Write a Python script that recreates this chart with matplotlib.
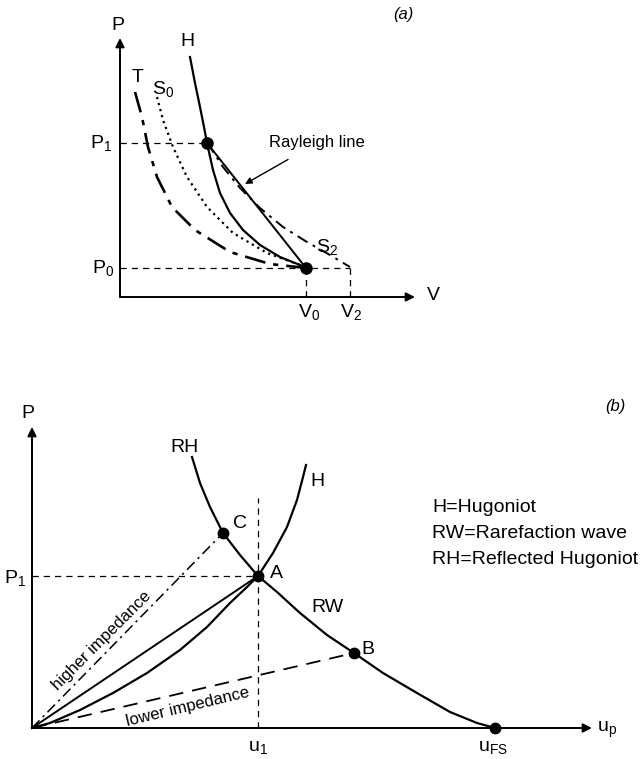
import matplotlib.pyplot as plt

plt.rcParams['font.family'] = ['Liberation Sans', 'DejaVu Sans']
plt.rcParams['mathtext.fontset'] = 'custom'
plt.rcParams['mathtext.rm'] = 'Liberation Sans'
plt.rcParams['mathtext.it'] = 'Liberation Sans:italic'
plt.rcParams['mathtext.default'] = 'rm'

# ---------------- panel (a): P-V plane ----------------
# Hugoniot above and below the shocked state
h_top_v = [0.70, 0.75, 0.80, 0.84, 0.87]
h_top_p = [2.40, 2.14, 1.90, 1.70, 1.54]
h_low_v = [0.87, 0.93, 1.00, 1.10, 1.23, 1.40, 1.60, 1.80, 1.86]
h_low_p = [1.54, 1.27, 1.04, 0.84, 0.67, 0.52, 0.40, 0.32, 0.29]
# isentrope S2 (release from P1)
s2_v = [0.87, 0.90, 1.03, 1.20, 1.40, 1.63, 1.87, 2.10, 2.30]
s2_p = [1.54, 1.50, 1.30, 1.09, 0.89, 0.70, 0.55, 0.42, 0.30]
# isentrope S0
s0_v = [0.37, 0.43, 0.53, 0.67, 0.87, 1.13, 1.47, 1.80, 1.86]
s0_p = [2.00, 1.77, 1.50, 1.20, 0.90, 0.64, 0.44, 0.32, 0.29]
# isotherm T
t_v = [0.15, 0.22, 0.28, 0.37, 0.52, 0.75, 1.10, 1.50, 1.86]
t_p = [2.05, 1.80, 1.50, 1.20, 0.90, 0.67, 0.45, 0.33, 0.29]
# states
V0, P0 = 1.86, 0.29
V1, P1 = 0.87, 1.54
V2 = 2.30

# ---------------- panel (b): P-u plane ----------------
hb_u = [0.0, 0.18, 0.48, 0.81, 1.15, 1.48, 1.75, 1.98, 2.15, 2.26,
        2.41, 2.55, 2.65, 2.71, 2.74]
hb_p = [0.0, 0.05, 0.18, 0.35, 0.55, 0.78, 1.01, 1.25, 1.41, 1.52,
        1.75, 2.01, 2.28, 2.51, 2.63]
rh_u = [1.60, 1.68, 1.78, 1.91, 2.08, 2.26]
rh_p = [2.71, 2.45, 2.21, 1.95, 1.73, 1.52]
rw_u = [2.26, 2.45, 2.68, 2.95, 3.22, 3.51, 3.85, 4.18, 4.45, 4.63]
rw_p = [1.52, 1.36, 1.15, 0.93, 0.75, 0.55, 0.35, 0.16, 0.05, 0.0]
A = (2.26, 1.52)
B = (3.22, 0.75)
C = (1.91, 1.95)
u_fs = 4.63
legend_lines = ['H=Hugoniot', 'RW=Rarefaction wave', 'RH=Reflected Hugoniot']

W, H = 641, 759
fig = plt.figure(figsize=(W / 100, H / 100), dpi=100)


def make_axes(x0, y0, x1, y1, xmax, ymax):
    # x0,y0 = origin in pixels, x1,y1 = top-right corner in pixels
    ax = fig.add_axes([x0 / W, (H - y0) / H, (x1 - x0) / W, (y0 - y1) / H])
    ax.set_xlim(0, xmax)
    ax.set_ylim(0, ymax)
    ax.axis('off')
    arrow = dict(arrowstyle='-|>', lw=1.4, color='k', mutation_scale=13,
                 shrinkA=0, shrinkB=0)
    ax.annotate('', xy=(0, ymax), xytext=(0, 0), arrowprops=arrow,
                annotation_clip=False)
    ax.annotate('', xy=(xmax, 0), xytext=(0, 0), arrowprops=arrow,
                annotation_clip=False)
    return ax


dash = (0, (5, 4))
lbl = 14

# ---- (a) ----
ax = make_axes(120, 297, 415, 38, 2.95, 2.59)
ax.plot([0, V1], [P1, P1], color='k', lw=0.9, ls=dash, clip_on=False)
ax.plot([0, V2], [P0, P0], color='k', lw=0.9, ls=dash, clip_on=False)
ax.plot([V0, V0], [0, P0], color='k', lw=0.9, ls=dash, clip_on=False)
ax.plot([V2, V2], [0, P0], color='k', lw=0.9, ls=dash, clip_on=False)
ax.plot(h_top_v, h_top_p, color='k', lw=1.6, clip_on=False)
ax.plot(h_low_v, h_low_p, color='k', lw=1.6, clip_on=False)
ax.plot([V1, V0], [P1, P0], color='k', lw=1.4, clip_on=False)
ax.plot(s2_v, s2_p, color='k', lw=1.4, ls=(0, (6, 3, 1.5, 3)), clip_on=False)
ax.plot(s0_v, s0_p, color='k', lw=1.6, ls=(0, (1, 1.8)), clip_on=False)
ax.plot(t_v, t_p, color='k', lw=1.9, ls=(0, (8, 3, 2, 3)), clip_on=False)
ax.plot([V1, V0], [P1, P0], 'o', color='k', ms=8, clip_on=False)
ax.annotate('Rayleigh line', xy=(1.25, 1.13), xytext=(1.97, 1.54),
            ha='center', va='center', fontsize=12,
            arrowprops=dict(arrowstyle='-|>', lw=1.0, color='k',
                            mutation_scale=10, shrinkA=9, shrinkB=0))
ax.text(-0.02, 2.72, 'P', fontsize=lbl, ha='center', va='center')
ax.text(0.67, 2.55, 'H', fontsize=lbl, ha='center', va='center')
ax.text(0.18, 2.19, 'T', fontsize=lbl, ha='center', va='center')
ax.text(0.43, 2.08, 'S$_0$', fontsize=lbl, ha='center', va='center')
ax.text(2.07, 0.50, 'S$_2$', fontsize=lbl, ha='center', va='center')
ax.text(-0.19, P1, 'P$_1$', fontsize=lbl, ha='center', va='center')
ax.text(-0.17, P0, 'P$_0$', fontsize=lbl, ha='center', va='center')
ax.text(V0 + 0.03, -0.15, 'V$_0$', fontsize=lbl, ha='center', va='center')
ax.text(V2 + 0.01, -0.15, 'V$_2$', fontsize=lbl, ha='center', va='center')
ax.text(3.13, 0.01, 'V', fontsize=lbl, ha='center', va='center')
ax.text(2.83, 2.82, '(a)', fontsize=12, style='italic', ha='center', va='center')

# ---- (b) ----
bx = make_axes(32, 728, 592, 427, 5.60, 3.01)
bx.plot([0, A[0]], [A[1], A[1]], color='k', lw=0.9, ls=dash, clip_on=False)
bx.plot([A[0], A[0]], [0, 2.30], color='k', lw=0.9, ls=dash, clip_on=False)
bx.plot(hb_u, hb_p, color='k', lw=1.6, clip_on=False)
bx.plot(rh_u, rh_p, color='k', lw=1.6, clip_on=False)
bx.plot(rw_u, rw_p, color='k', lw=1.6, clip_on=False)
bx.plot([0, A[0]], [0, A[1]], color='k', lw=1.4, clip_on=False)
bx.plot([0, C[0]], [0, C[1]], color='k', lw=1.1, ls=(0, (7, 3, 1.5, 3)), clip_on=False)
bx.plot([0, B[0]], [0, B[1]], color='k', lw=1.3, ls=(0, (8, 5)), clip_on=False)
bx.plot([A[0], B[0], C[0], u_fs], [A[1], B[1], C[1], 0], 'o', color='k',
        ms=7.5, clip_on=False)
bx.text(-0.04, 3.14, 'P', fontsize=lbl, ha='center', va='center')
bx.text(1.53, 2.81, 'RH', fontsize=lbl, ha='center', va='center')
bx.text(2.85, 2.46, 'H', fontsize=lbl, ha='center', va='center')
bx.text(2.08, 2.05, 'C', fontsize=lbl, ha='center', va='center')
bx.text(2.44, 1.55, 'A', fontsize=lbl, ha='center', va='center')
bx.text(2.95, 1.21, 'RW', fontsize=lbl, ha='center', va='center')
bx.text(3.36, 0.78, 'B', fontsize=lbl, ha='center', va='center')
bx.text(-0.17, A[1] - 0.02, 'P$_1$', fontsize=lbl, ha='center', va='center')
bx.text(A[0], -0.19, 'u$_1$', fontsize=lbl, ha='center', va='center')
bx.text(u_fs - 0.02, -0.19, 'u$_{\\mathrm{FS}}$', fontsize=lbl, ha='center', va='center')
bx.text(5.75, -0.02, 'u$_{\\mathrm{p}}$', fontsize=lbl, ha='center', va='center')
bx.text(5.83, 3.21, '(b)', fontsize=12, style='italic', ha='center', va='center')
bx.text(0.70, 0.87, 'higher impedance', fontsize=12, rotation=45,
        rotation_mode='anchor', ha='center', va='center')
bx.text(1.56, 0.21, 'lower impedance', fontsize=12, rotation=13.5,
        rotation_mode='anchor', ha='center', va='center')
for i, line in enumerate(legend_lines):
    bx.text(4.00, 2.21 - 0.265 * i, line, fontsize=14, ha='left', va='center')

fig.savefig('out.png', dpi=100, facecolor='white')
